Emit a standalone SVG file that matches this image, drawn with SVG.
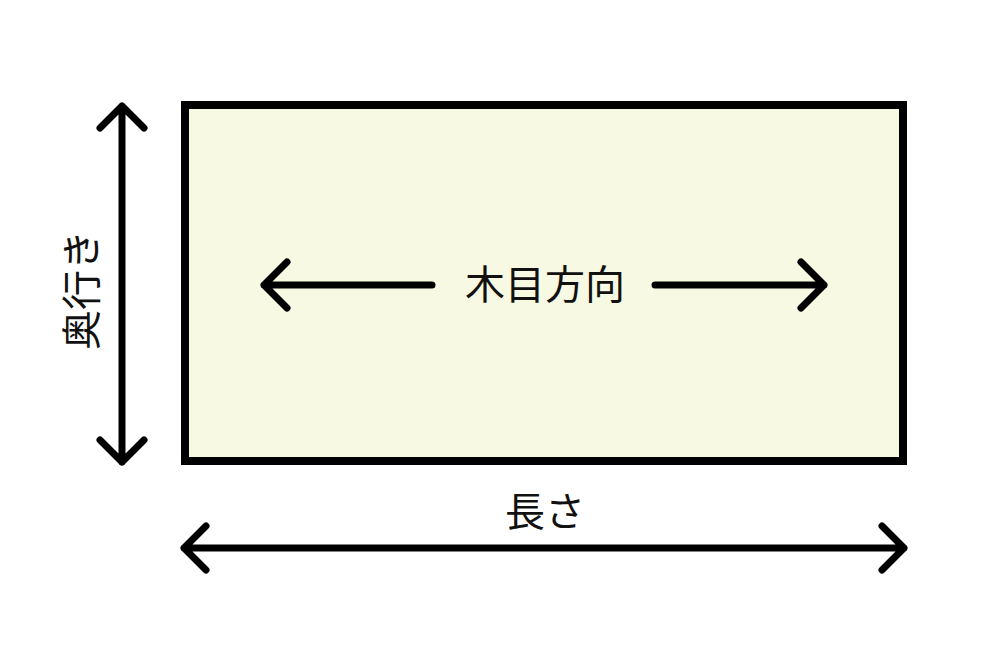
<svg xmlns="http://www.w3.org/2000/svg" width="1000" height="667" viewBox="0 0 1000 667">
<style>
.ln{stroke:#000;stroke-width:7;fill:none;stroke-linecap:round;stroke-linejoin:round}
.t{font-family:"Noto Sans CJK JP","Noto Sans",sans-serif;font-size:40px;fill:#111;text-anchor:middle}
</style>
<rect width="1000" height="667" fill="#fff"/>
<g id="board"><rect x="185" y="105" width="718" height="356" fill="#f8f9e3" stroke="#000" stroke-width="8"/></g>
<g id="connectors">
<path class="ln" d="M122 106V462M100 128L122 106L144 128M100 440L122 462L144 440"/>
<path class="ln" d="M184 548H904M206 526L184 548L206 570M882 526L904 548L882 570"/>
<path class="ln" d="M264 285H432M287 262L264 285L287 308"/>
<path class="ln" d="M655 285H824M801 262L824 285L801 308"/>
</g>
<g id="labels">
<text class="t" x="545" y="299">木目方向</text>
<text class="t" x="545" y="526">長さ</text>
<text class="t" transform="translate(96 290) rotate(-90)">奥行き</text>
</g>
</svg>
